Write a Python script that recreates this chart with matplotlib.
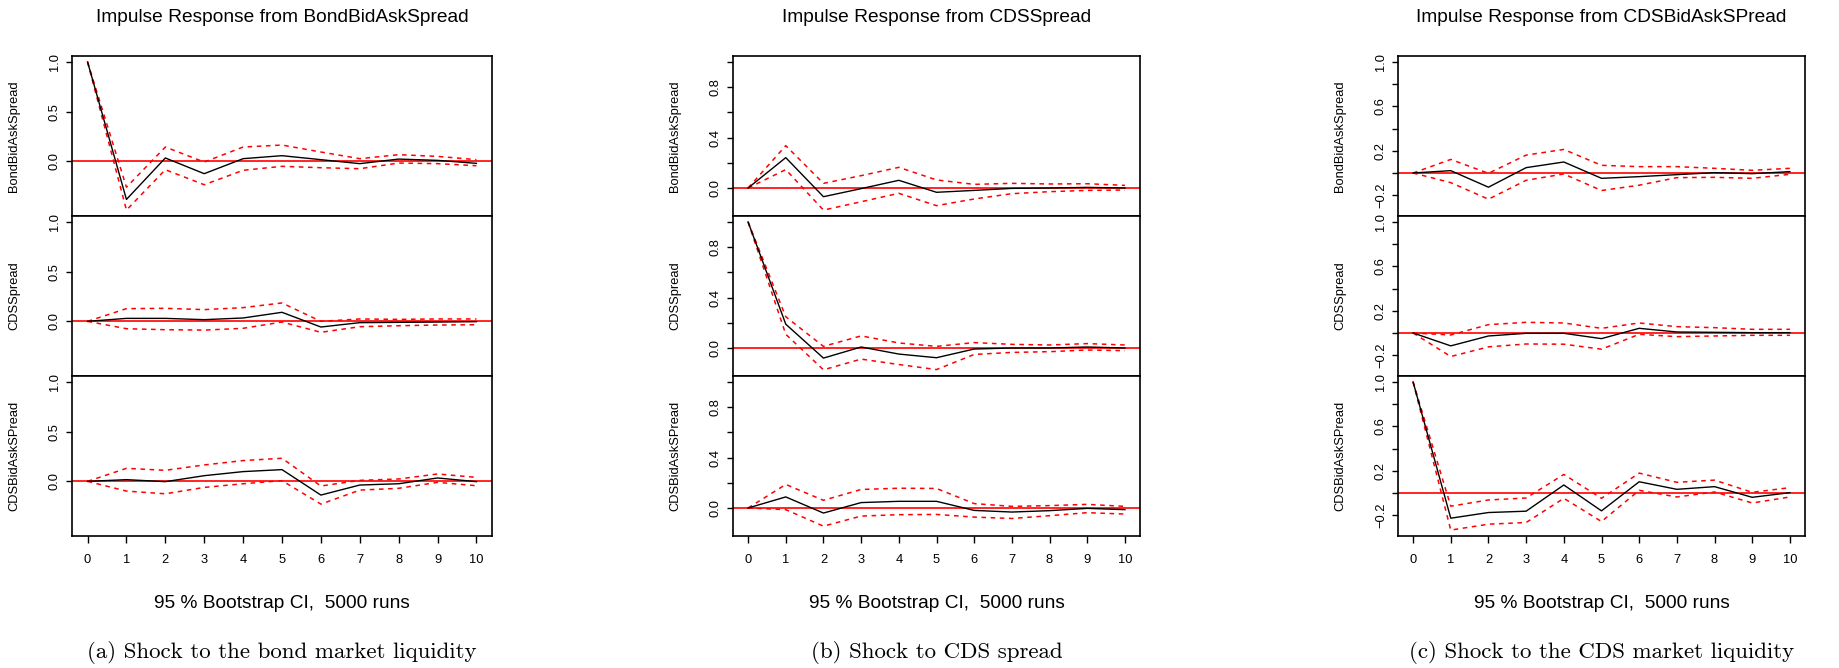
import matplotlib.pyplot as plt
from matplotlib.ticker import FixedLocator

plt.rcParams['font.family'] = ['Liberation Sans', 'DejaVu Sans']

lags = list(range(11))
responses = ['BondBidAskSpread', 'CDSSpread', 'CDSBidAskSPread']
impulses = ['BondBidAskSpread', 'CDSSpread', 'CDSBidAskSPread']
captions = ['(a) Shock to the bond market liquidity',
            '(b) Shock to CDS spread',
            '(c) Shock to the CDS market liquidity']
ci_label = '95 % Bootstrap CI,  5000 runs'

# (a) impulse from BondBidAskSpread
a_bond = [1.0, -0.383, 0.034, -0.124, 0.027, 0.057, 0.017, -0.023, 0.023, 0.010, -0.020]
a_bond_hi = [1.0, -0.260, 0.144, -0.007, 0.144, 0.164, 0.094, 0.027, 0.067, 0.050, 0.017]
a_bond_lo = [1.0, -0.490, -0.084, -0.235, -0.090, -0.050, -0.064, -0.074, -0.017, -0.023, -0.044]
a_cds = [0.0, 0.030, 0.030, 0.017, 0.034, 0.091, -0.057, -0.013, -0.010, -0.007, -0.003]
a_cds_hi = [0.0, 0.128, 0.131, 0.118, 0.138, 0.185, 0.000, 0.024, 0.020, 0.024, 0.024]
a_cds_lo = [0.0, -0.074, -0.084, -0.088, -0.070, -0.007, -0.110, -0.054, -0.044, -0.037, -0.034]
a_cdsba = [0.0, 0.017, -0.003, 0.057, 0.098, 0.118, -0.138, -0.037, -0.024, 0.034, -0.003]
a_cdsba_hi = [0.0, 0.131, 0.111, 0.165, 0.209, 0.232, -0.047, 0.010, 0.024, 0.074, 0.040]
a_cdsba_lo = [0.0, -0.098, -0.125, -0.061, -0.024, 0.007, -0.229, -0.088, -0.070, -0.010, -0.044]

# (b) impulse from CDSSpread
b_bond = [0.0, 0.241, -0.069, -0.005, 0.061, -0.034, -0.019, -0.003, 0.000, 0.005, 0.000]
b_bond_hi = [0.0, 0.336, 0.037, 0.098, 0.164, 0.064, 0.029, 0.037, 0.032, 0.034, 0.021]
b_bond_lo = [0.0, 0.146, -0.175, -0.109, -0.042, -0.140, -0.087, -0.045, -0.029, -0.019, -0.016]
b_cds = [1.0, 0.189, -0.080, 0.008, -0.048, -0.077, -0.008, 0.000, 0.000, 0.008, 0.000]
b_cds_hi = [1.0, 0.248, 0.013, 0.096, 0.040, 0.013, 0.043, 0.029, 0.024, 0.035, 0.024]
b_cds_lo = [1.0, 0.109, -0.173, -0.088, -0.131, -0.171, -0.051, -0.035, -0.029, -0.016, -0.021]
b_cdsba = [0.0, 0.088, -0.040, 0.043, 0.053, 0.053, -0.019, -0.032, -0.021, -0.003, -0.013]
b_cdsba_hi = [0.0, 0.187, 0.061, 0.147, 0.157, 0.155, 0.035, 0.013, 0.019, 0.029, 0.013]
b_cdsba_lo = [0.0, -0.013, -0.144, -0.064, -0.053, -0.051, -0.072, -0.083, -0.061, -0.037, -0.048]

# (c) impulse from CDSBidAskSPread
c_bond = [0.0, 0.021, -0.128, 0.048, 0.099, -0.048, -0.033, -0.015, 0.003, -0.006, 0.012]
c_bond_hi = [0.0, 0.122, -0.003, 0.161, 0.212, 0.069, 0.057, 0.057, 0.042, 0.024, 0.042]
c_bond_lo = [0.0, -0.087, -0.236, -0.066, -0.009, -0.158, -0.110, -0.042, -0.039, -0.048, -0.012]
c_cds = [0.0, -0.116, -0.027, -0.003, -0.003, -0.051, 0.042, 0.009, 0.006, 0.003, 0.003]
c_cds_hi = [0.0, -0.018, 0.075, 0.096, 0.090, 0.042, 0.090, 0.057, 0.048, 0.033, 0.033]
c_cds_lo = [0.0, -0.212, -0.125, -0.099, -0.101, -0.146, -0.012, -0.033, -0.027, -0.021, -0.021]
c_cdsba = [1.0, -0.227, -0.176, -0.164, 0.072, -0.161, 0.101, 0.033, 0.057, -0.039, 0.003]
c_cdsba_hi = [1.0, -0.119, -0.063, -0.045, 0.167, -0.048, 0.179, 0.096, 0.116, 0.006, 0.048]
c_cdsba_lo = [1.0, -0.334, -0.281, -0.266, -0.048, -0.257, 0.024, -0.036, 0.009, -0.090, -0.036]

panels = [
    [(a_bond, a_bond_lo, a_bond_hi), (a_cds, a_cds_lo, a_cds_hi), (a_cdsba, a_cdsba_lo, a_cdsba_hi)],
    [(b_bond, b_bond_lo, b_bond_hi), (b_cds, b_cds_lo, b_cds_hi), (b_cdsba, b_cdsba_lo, b_cdsba_hi)],
    [(c_bond, c_bond_lo, c_bond_hi), (c_cds, c_cds_lo, c_cds_hi), (c_cdsba, c_cdsba_lo, c_cdsba_hi)],
]

# tick positions (labelled, unlabelled) for each panel
major_ticks = [[0.0, 0.5, 1.0], [0.0, 0.4, 0.8], [-0.2, 0.2, 0.6, 1.0]]
minor_ticks = [[], [0.2, 0.6, 1.0], [0.0, 0.4, 0.8]]

W, H = 1839, 668
fig = plt.figure(figsize=(W / 100, H / 100), dpi=100)

# panel extents in pixels
lefts = [72, 733, 1398]
rights = [492, 1140, 1805]
top, h = 56, 160

for p in range(3):
    axes = []
    for r in range(3):
        y0 = H - (top + h * (r + 1))
        ax = fig.add_axes([lefts[p] / W, y0 / H, (rights[p] - lefts[p]) / W, h / H],
                          sharey=axes[0] if axes else None)
        axes.append(ax)
        irf, lo, hi = panels[p][r]
        ax.axhline(0, color='red', lw=1.2, zorder=1)
        ax.plot(lags, irf, color='black', lw=1.0, zorder=3)
        ax.plot(lags, hi, color='red', lw=1.1, ls=(0, (3, 3)), zorder=2)
        ax.plot(lags, lo, color='red', lw=1.1, ls=(0, (3, 3)), zorder=2)
        ax.margins(x=0.04, y=0.04)
        for s in ax.spines.values():
            s.set_linewidth(1.2)
        ax.yaxis.set_major_locator(FixedLocator(major_ticks[p]))
        ax.yaxis.set_minor_locator(FixedLocator(minor_ticks[p]))
        ax.tick_params(axis='y', which='both', direction='out', length=4, width=1.0,
                       labelsize=9.3, pad=4, labelrotation=90)
        for lab in ax.get_yticklabels():
            lab.set_va('center')
        ax.set_ylabel(responses[r], fontsize=9.3)
        ax.yaxis.set_label_coords(-52 / (rights[p] - lefts[p]), 0.5)
        if r < 2:
            ax.tick_params(axis='x', bottom=False, labelbottom=False)
        else:
            ax.set_xticks(lags)
            ax.tick_params(axis='x', direction='out', length=5, width=1.0,
                           labelsize=9.3, pad=8)
    cx = (lefts[p] + rights[p]) / 2 / W
    fig.text(cx, 1 - 17 / H, 'Impulse Response from ' + impulses[p],
             ha='center', va='center', fontsize=13.8)
    fig.text(cx, 1 - 603 / H, ci_label, ha='center', va='center', fontsize=13.8)
    fig.text(cx, 1 - 652 / H, captions[p], ha='center', va='center',
             fontsize=16.5, family='cmr10')

fig.savefig('out.png', dpi=100)
